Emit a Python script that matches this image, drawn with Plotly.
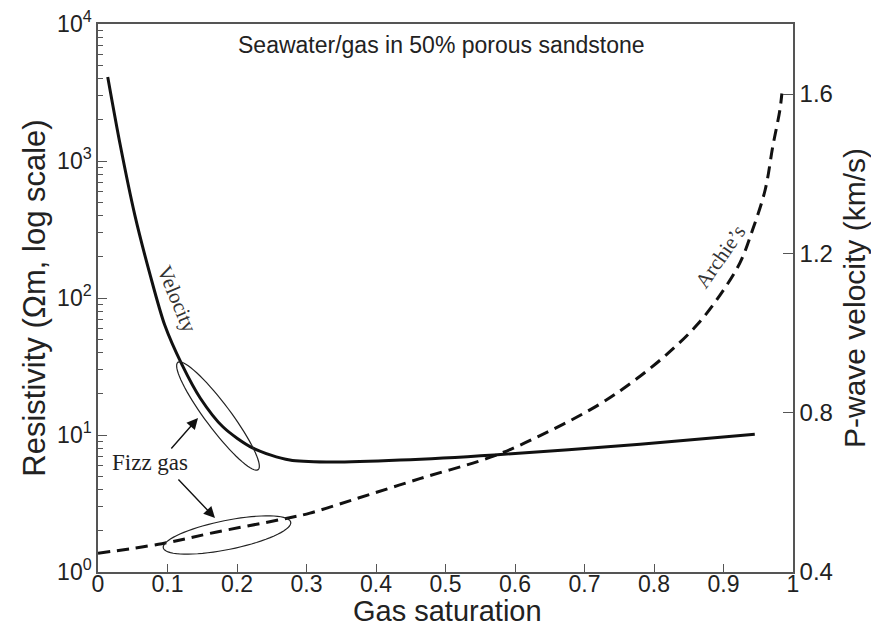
import numpy as np
import plotly.graph_objects as go

# ---- data ----
vel_sat = [0.014, 0.032, 0.053, 0.075, 0.096, 0.121, 0.147, 0.180, 0.223, 0.276, 0.334, 0.435, 0.570, 0.780, 0.945]
vel_kms = [1.643, 1.472, 1.296, 1.146, 1.020, 0.920, 0.837, 0.764, 0.711, 0.681, 0.676, 0.681, 0.694, 0.721, 0.746]

arch_sat = [0.0, 0.092, 0.171, 0.262, 0.305, 0.363, 0.463, 0.570, 0.650, 0.722, 0.770, 0.818,
            0.862, 0.895, 0.924, 0.942, 0.960, 0.971, 0.981, 0.984]
arch_res = [1.37, 1.61, 1.96, 2.41, 2.69, 3.32, 4.80, 7.04, 10.7, 16.8, 24.6, 38.6,
            63.7, 105, 182, 316, 617, 1285, 2340, 3110]

x_ticks = [0, 0.1, 0.2, 0.3, 0.4, 0.5, 0.6, 0.7, 0.8, 0.9, 1]
r_ticks = [1, 10, 100, 1000, 10000]
r_ticktext = ["10<sup>0</sup>", "10<sup>1</sup>", "10<sup>2</sup>", "10<sup>3</sup>", "10<sup>4</sup>"]
v_ticks = [0.4, 0.8, 1.2, 1.6]

AX = "#555555"
TXT = "#222222"
SANS = "Liberation Sans, Arial, sans-serif"
SERIF = "Liberation Serif, Times New Roman, serif"

# plot-area geometry on the page (px)
PL, PR, PT, PB = 98.0, 793.0, 24.0, 572.0
W, H = PR - PL, PB - PT


def px(x):
    return (x - PL) / W


def py(y):
    return (PB - y) / H


fig = go.Figure()
fig.add_trace(go.Scatter(x=arch_sat, y=arch_res, mode="lines", yaxis="y",
                         line=dict(color="#111111", width=3, dash="12px,7px", shape="spline"),
                         showlegend=False))
fig.add_trace(go.Scatter(x=vel_sat, y=vel_kms, mode="lines", yaxis="y2",
                         line=dict(color="#111111", width=3, shape="spline", smoothing=0.8),
                         showlegend=False))


def ellipse_path(cxp, cyp, a, b, ang_deg):
    # centre in page px; a, b half-axes in px; angle in px space (y down)
    t = np.linspace(0, 2 * np.pi, 73)
    th = np.deg2rad(ang_deg)
    dx = a * np.cos(t) * np.cos(th) - b * np.sin(t) * np.sin(th)
    dy = a * np.cos(t) * np.sin(th) + b * np.sin(t) * np.cos(th)
    pts = [f"{px(cxp + u):.5f},{py(cyp + v):.5f}" for u, v in zip(dx, dy)]
    return "M " + " L ".join(pts) + " Z"


shapes = [
    dict(type="path", xref="paper", yref="paper",
         path=ellipse_path(218, 416, 67, 12.5, 53.2),
         line=dict(color="#222222", width=1.2)),
    dict(type="path", xref="paper", yref="paper",
         path=ellipse_path(227, 535, 65, 14.5, -11.4),
         line=dict(color="#222222", width=1.2)),
]

C = dict(xanchor="center", yanchor="middle", xref="paper", yref="paper", showarrow=False)
annotations = [
    dict(text="Seawater/gas in 50% porous sandstone", x=px(441), y=py(45),
         font=dict(family=SANS, size=23, color=TXT), **C),
    dict(text="Velocity", x=px(177), y=py(299), textangle=67,
         font=dict(family=SERIF, size=21, color="#333333"), **C),
    dict(text="Archie\u2019s", x=px(720), y=py(257), textangle=-55,
         font=dict(family=SERIF, size=21, color="#333333"), **C),
    dict(text="Fizz gas", x=px(150), y=py(462),
         font=dict(family=SERIF, size=23, color="#222222"), **C),
    dict(text="Gas saturation", x=px(447), y=py(611),
         font=dict(family=SANS, size=29, color=TXT), **C),
    dict(text="", x=px(198), y=py(418), xref="paper", yref="paper", ax=-28, ay=32,
         showarrow=True, arrowhead=2, arrowsize=1.6, arrowwidth=1.4, arrowcolor="#111111"),
    dict(text="", x=px(215), y=py(518), xref="paper", yref="paper", ax=-38, ay=-40,
         showarrow=True, arrowhead=2, arrowsize=1.6, arrowwidth=1.4, arrowcolor="#111111"),
]

fig.update_layout(
    width=871, height=626,
    margin=dict(l=90, r=86, t=16, b=62),
    plot_bgcolor="white", paper_bgcolor="white",
    font=dict(family=SANS, color=TXT),
    shapes=shapes, annotations=annotations,
    xaxis=dict(range=[0, 1], tickvals=x_ticks, ticktext=[f"{v:g}" for v in x_ticks],
               ticks="inside", ticklen=8, tickcolor=AX, showline=True, linecolor=AX, linewidth=1.5,
               mirror=True, showgrid=False, zeroline=False, automargin=False,
               ticklabelstandoff=-9, ticklabeloverflow="allow",
               tickfont=dict(size=23, family=SANS, color=TXT)),
    yaxis=dict(type="log", range=[0, 4], tickvals=r_ticks, ticktext=r_ticktext,
               ticks="inside", ticklen=9, tickcolor=AX, showline=True, linecolor=AX, linewidth=1.5,
               showgrid=False, zeroline=False, automargin=False, ticklabeloverflow="allow",
               minor=dict(ticks="inside", ticklen=5, tickcolor=AX, showgrid=False,
                          tickvals=[v * m for v in [1, 10, 100, 1000] for m in range(2, 10)]),
               tickfont=dict(size=23, family=SANS, color=TXT),
               title=dict(text="Resistivity (\u03a9m, log scale)", font=dict(size=31, family=SANS, color=TXT),
                          standoff=2)),
    yaxis2=dict(overlaying="y", side="right", range=[0.4, 1.776], tickvals=v_ticks,
                ticktext=[f"{v:.1f}" for v in v_ticks], automargin=False, ticklabeloverflow="allow",
                ticks="inside", ticklen=10, tickcolor=AX, showline=True, linecolor=AX, linewidth=1.5,
                showgrid=False, zeroline=False,
                tickfont=dict(size=24, family=SANS, color=TXT),
                title=dict(text="P-wave velocity (km/s)", font=dict(size=30, family=SANS, color=TXT),
                           standoff=12)),
)

fig.write_html("out.html")
